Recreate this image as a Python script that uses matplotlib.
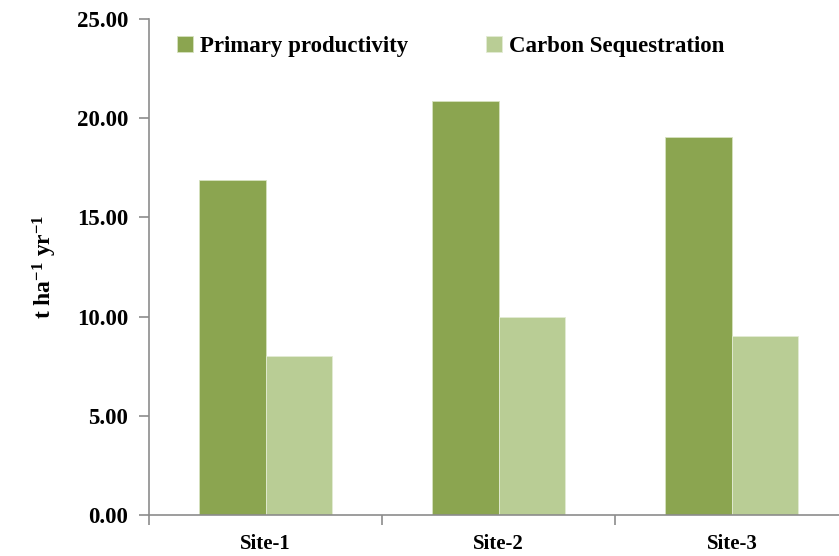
import matplotlib
matplotlib.use("Agg")
import matplotlib.pyplot as plt
import numpy as np

sites = ["Site-1", "Site-2", "Site-3"]
primary_productivity = [16.88, 20.87, 19.05]
carbon_sequestration = [8.01, 9.98, 9.02]
y_ticks = [0, 5, 10, 15, 20, 25]

plt.rcParams["font.family"] = ["Liberation Serif", "DejaVu Serif"]
plt.rcParams["font.weight"] = "bold"
plt.rcParams["mathtext.fontset"] = "custom"
plt.rcParams["mathtext.rm"] = "Liberation Serif:bold"
plt.rcParams["mathtext.bf"] = "Liberation Serif:bold"
plt.rcParams["mathtext.it"] = "Liberation Serif:bold"

dark = "#8ba550"
light = "#b9cd95"
axis_grey = "#8c8c8c"

fig = plt.figure(figsize=(8.39, 5.56), dpi=100)
ax = fig.add_axes([0.1776, 0.0737, 0.8337, 0.8921])

x = np.arange(len(sites))
w = 0.285
ax.bar(x - w / 2, primary_productivity, width=w, color=dark,
       edgecolor="#d6e2c0", linewidth=0.6, label="Primary productivity")
ax.bar(x + w / 2, carbon_sequestration, width=w, color=light,
       edgecolor="#e3ecd4", linewidth=0.6, label="Carbon Sequestration")

ax.set_xlim(-0.5, len(sites) - 0.5)
ax.set_ylim(0, 25)
ax.set_yticks(y_ticks)
ax.set_yticklabels([f"{v:.2f}" for v in y_ticks], fontsize=16.5, fontweight="bold")

ax.set_xticks(x)
ax.set_xticklabels(sites, fontsize=15, fontweight="bold")
ax.set_xticks(np.arange(-0.5, len(sites)), minor=True)
ax.tick_params(axis="x", which="major", length=0, pad=14)
ax.tick_params(axis="x", which="minor", length=7, color=axis_grey, width=1.2)
ax.tick_params(axis="y", length=7, color=axis_grey, width=1.2, pad=8)

for side in ("top", "right"):
    ax.spines[side].set_visible(False)
for side in ("left", "bottom"):
    ax.spines[side].set_color(axis_grey)
    ax.spines[side].set_linewidth(1.2)

ax.set_ylabel(r"t ha$^{-1}$ yr$^{-1}$", fontsize=17, fontweight="bold", labelpad=13)

leg = ax.legend(loc="upper left", bbox_to_anchor=(0.01, 1.008), ncol=2, frameon=False,
                handlelength=0.7, handleheight=0.7, handletextpad=0.3,
                columnspacing=3.4, prop={"weight": "bold", "size": 16.5})

fig.savefig("out.png", dpi=100)
